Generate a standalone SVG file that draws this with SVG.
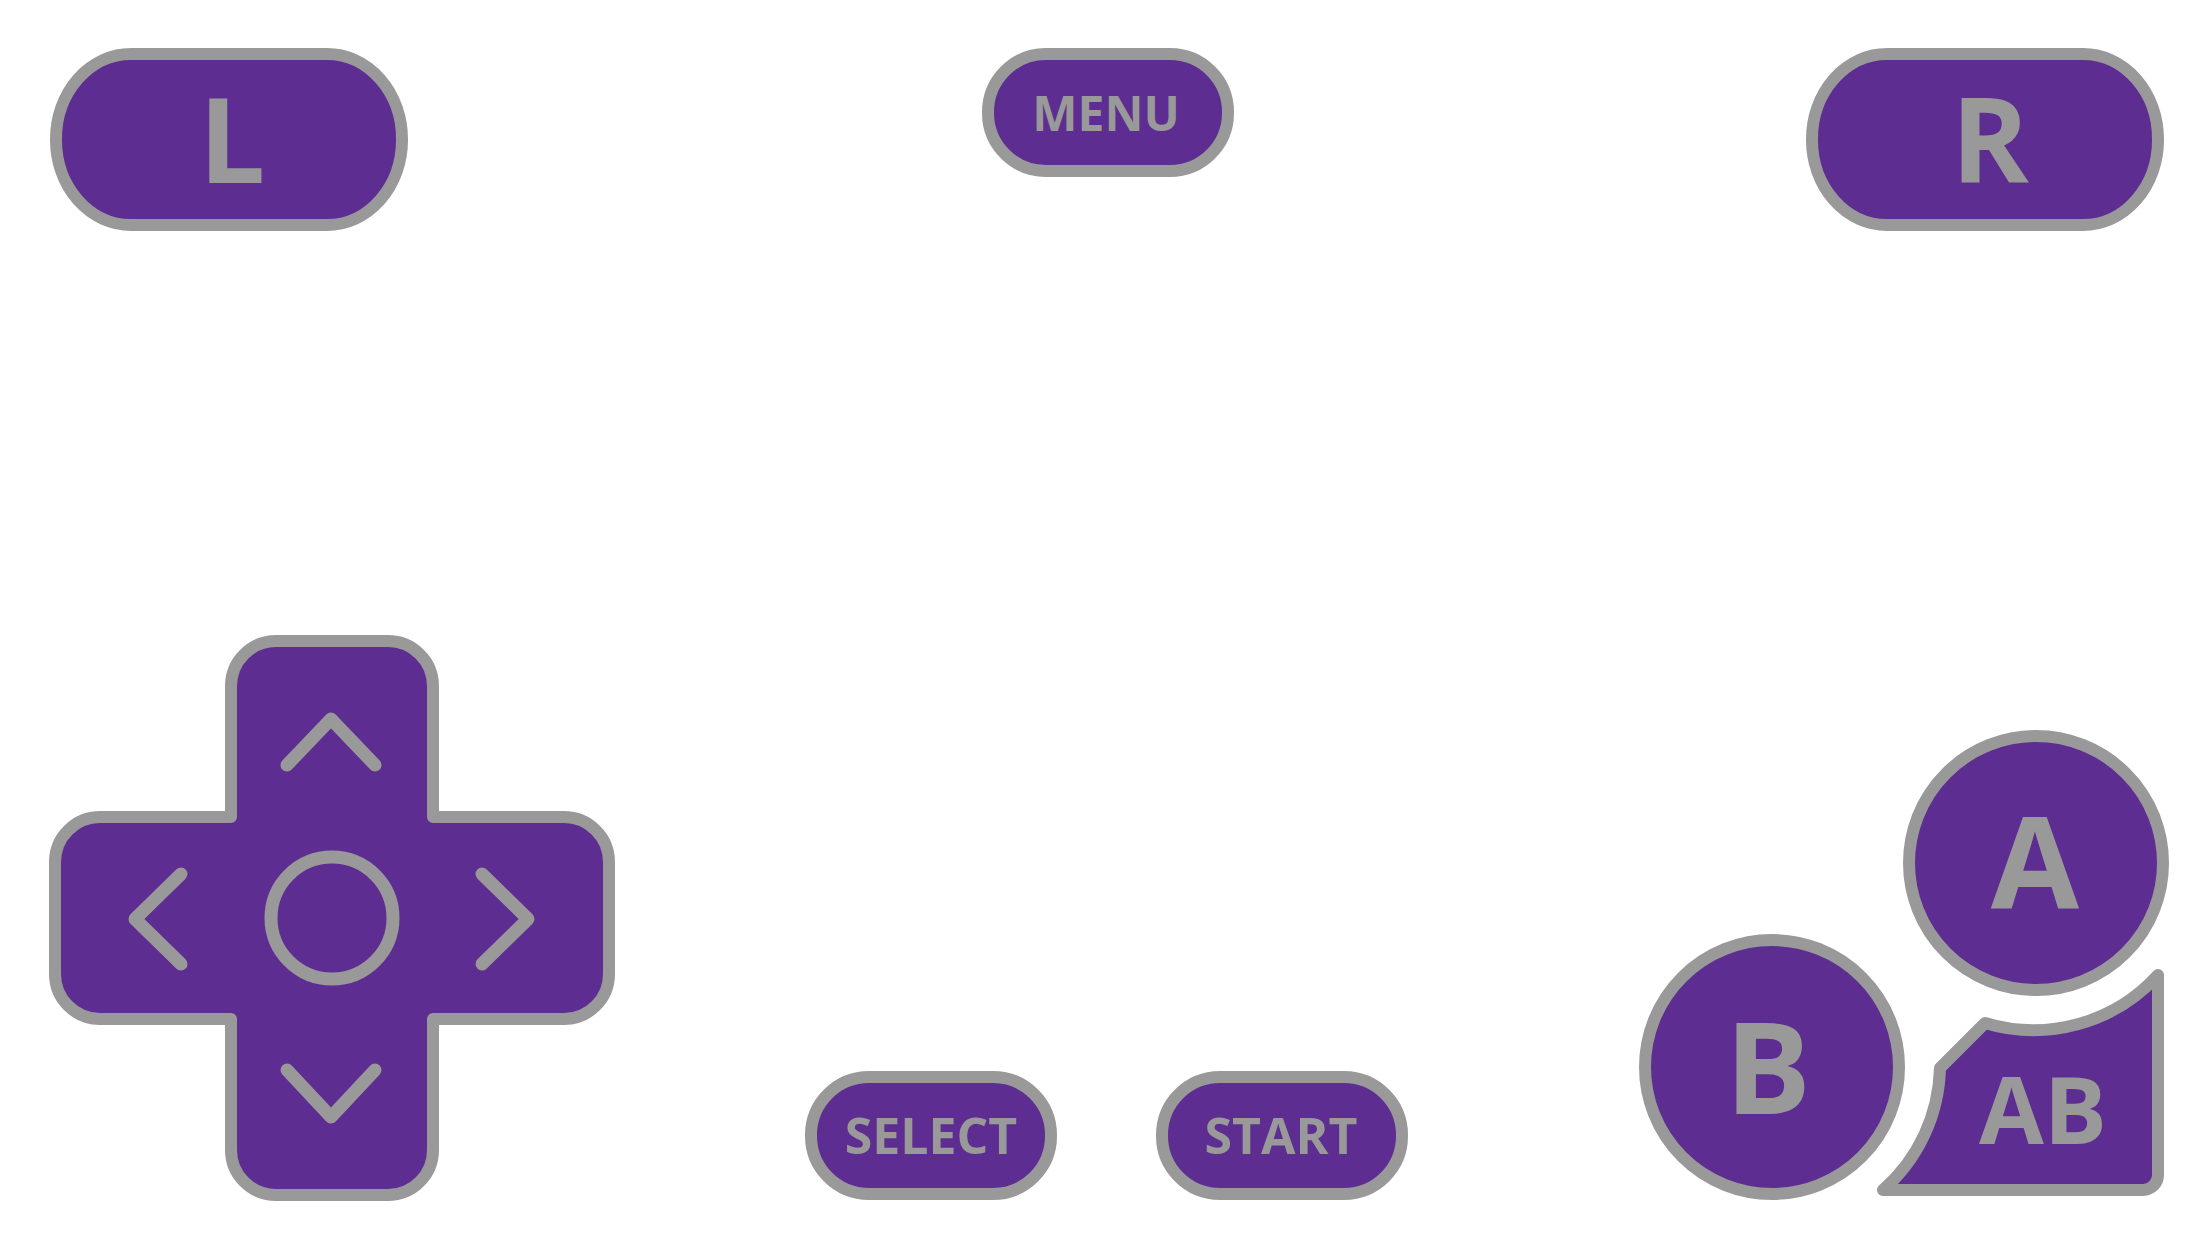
<svg xmlns="http://www.w3.org/2000/svg" width="2208" height="1245" viewBox="0 0 2208 1245">
<style>
.btn{fill:#5e2d91;stroke:#999999;stroke-width:12;stroke-linejoin:round}
.lbl{fill:#999999;font-family:"Open Sans","Noto Sans","Liberation Sans",sans-serif;font-weight:700;text-anchor:middle}
.ico{fill:none;stroke:#999999;stroke-width:13;stroke-linecap:round;stroke-linejoin:round}
</style>
<rect width="2208" height="1245" fill="#ffffff"/>
<g id="btn-L">
<rect class="btn" x="56" y="54" width="346" height="171" rx="75" ry="85"/>
<text class="lbl" x="232" y="183" font-size="118">L</text>
</g>
<g id="btn-MENU">
<rect class="btn" x="988" y="54" width="240" height="117" rx="58" ry="58"/>
<text class="lbl" x="1106" y="131" font-size="48">MENU</text>
</g>
<g id="btn-R">
<rect class="btn" x="1812" y="54" width="346" height="171" rx="75" ry="85"/>
<text class="lbl" x="1990" y="183" font-size="118">R</text>
</g>
<g id="dpad">
<path class="btn" d="M276 641 H388 A45 45 0 0 1 433 686 V817 H564 A45 45 0 0 1 609 862 V974 A45 45 0 0 1 564 1019 H433 V1150 A45 45 0 0 1 388 1195 H276 A45 45 0 0 1 231 1150 V1019 H100 A45 45 0 0 1 55 974 V862 A45 45 0 0 1 100 817 H231 V686 A45 45 0 0 1 276 641 Z"/>
<circle class="ico" cx="332" cy="918" r="61"/>
<polyline class="ico" points="287,765 331,719 375,765"/>
<polyline class="ico" points="287,1070 331,1117 375,1070"/>
<polyline class="ico" points="181,874 135,919 181,964"/>
<polyline class="ico" points="482,874 528,919 482,964"/>
</g>
<g id="btn-SELECT">
<rect class="btn" x="811" y="1077" width="240" height="117" rx="58" ry="58"/>
<text class="lbl" x="931" y="1154" font-size="50">SELECT</text>
</g>
<g id="btn-START">
<rect class="btn" x="1162" y="1077" width="240" height="117" rx="58" ry="58"/>
<text class="lbl" x="1281" y="1154" font-size="50">START</text>
</g>
<g id="btn-A">
<circle class="btn" cx="2036" cy="863" r="127"/>
<text class="lbl" x="2035" y="909" font-size="128">A</text>
</g>
<g id="btn-B">
<circle class="btn" cx="1772" cy="1067" r="127"/>
<text class="lbl" x="1768" y="1114" font-size="128">B</text>
</g>
<g id="btn-AB">
<path class="btn" d="M1883 1190 H2143 A15 15 0 0 0 2158 1175 V975 A168 168 0 0 1 1985 1023 L1940 1068 A168 168 0 0 1 1883 1190 Z"/>
<text class="lbl" x="2043" y="1144" font-size="94">AB</text>
</g>
<g id="connectors"/>
</svg>
